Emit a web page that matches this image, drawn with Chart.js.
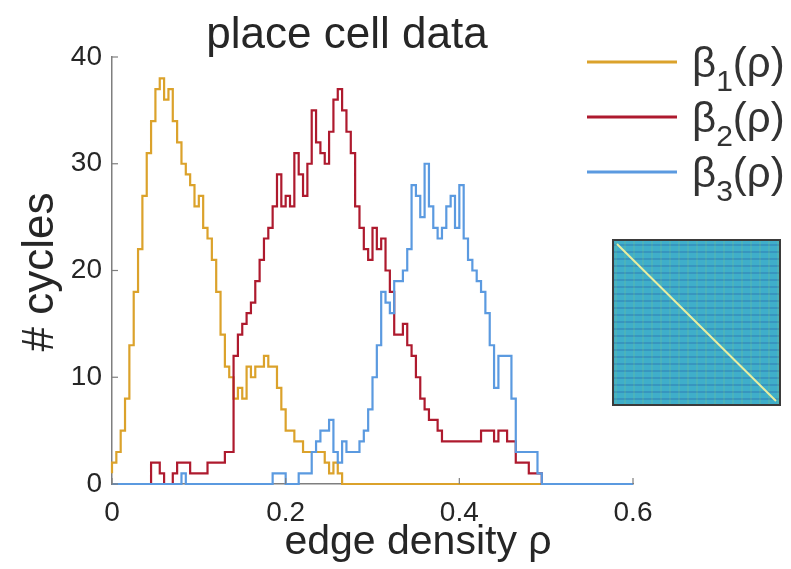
<!DOCTYPE html>
<html>
<head>
<meta charset="utf-8">
<script src="https://cdn.jsdelivr.net/npm/chart.js@4.4.1/dist/chart.umd.min.js"></script>
<style>
html, body { margin: 0; padding: 0; background: #fff; }
</style>
</head>
<body>
<canvas id="c" width="791" height="569"></canvas>
<script>
// histogram bins, left edges every 0.005 of edge density
const binWidth = 0.005;
const beta1 = [1, 2, 3, 5, 8, 13, 18, 22, 27, 31, 34, 37, 38, 36, 37, 34, 32, 30, 29, 28,
  26, 27, 24, 23, 21, 18, 14, 11, 10, 8, 9, 8, 11, 10, 11, 11, 12, 11, 11, 9,
  7, 5, 5, 4, 4, 3, 3, 3, 3, 3, 2, 1, 2, 1, 0, 0, 0, 0, 0, 0,
  0, 0, 0, 0, 0, 0, 0, 0, 0, 0, 0, 0, 0, 0, 0, 0, 0, 0, 0, 0,
  0, 0, 0, 0, 0, 0, 0, 0, 0, 0, 0, 0, 0, 0, 0, 0, 0, 0, 0, 0, 0];
const beta2 = [0, 0, 0, 0, 0, 0, 0, 0, 0, 0, 2, 2, 1, 0, 0, 1, 2, 2, 2, 1,
  1, 1, 1, 2, 2, 2, 2, 3, 3, 12, 14, 15, 16, 17, 19, 21, 23, 24, 26, 29,
  26, 27, 26, 31, 29, 27, 30, 35, 32, 31, 30, 33, 36, 37, 35, 33, 31, 26, 24, 22,
  21, 24, 22, 23, 20, 18, 14, 14, 15, 13, 12, 10, 8, 7, 6, 6, 5, 4, 4, 4,
  4, 4, 4, 4, 4, 4, 5, 5, 5, 4, 5, 5, 4, 4, 2, 2, 2, 1, 1, 1, 0];
const beta3 = [0, 0, 0, 0, 0, 0, 0, 0, 0, 0, 0, 0, 0, 0, 0, 0, 0, 1, 0, 0,
  0, 0, 0, 0, 0, 0, 0, 0, 0, 0, 0, 0, 0, 0, 0, 0, 0, 0, 1, 1,
  1, 0, 0, 0, 1, 1, 1, 3, 4, 5, 5, 6, 3, 2, 4, 3, 3, 3, 4, 5,
  7, 10, 13, 18, 17, 16, 19, 19, 20, 22, 28, 27, 25, 30, 26, 24, 23, 24, 26, 27,
  24, 28, 23, 21, 20, 19, 18, 16, 13, 9, 12, 12, 12, 8, 3, 3, 3, 3, 3, 1,
  0, 0, 0, 0, 0, 0, 0, 0, 0, 0, 0, 0, 0, 0, 0, 0, 0, 0, 0, 0, 0];

const seriesNames = ['1', '2', '3'];
const colors = ['#DBA22B', '#AE1A2E', '#5B9AE0'];
const xTicks = [0, 0.2, 0.4, 0.6];
const yTicks = [0, 10, 20, 30, 40];

const FONT = '"Liberation Sans", Arial, Helvetica, sans-serif';
const INK = '#262626';

function toPoints(vals) {
  return vals.map((v, i) => ({ x: +(i * binWidth).toFixed(3), y: v }));
}

function ds(vals, k, order) {
  return {
    label: 'β' + seriesNames[k] + '(ρ)',
    data: toPoints(vals),
    borderColor: colors[k],
    borderWidth: 2.2,
    stepped: 'after',
    pointRadius: 0,
    fill: false,
    clip: 6,
    order: order
  };
}

const decor = {
  id: 'decor',
  afterDraw(chart) {
    const ctx = chart.ctx;
    const xs = chart.scales.x, ys = chart.scales.y;
    const a = chart.chartArea;
    ctx.save();

    // inward tick marks like matlab
    ctx.strokeStyle = '#7f7f7f';
    ctx.lineWidth = 1.2;
    xTicks.forEach(t => {
      const p = xs.getPixelForValue(t);
      ctx.beginPath(); ctx.moveTo(p, a.bottom); ctx.lineTo(p, a.bottom - 6); ctx.stroke();
    });
    yTicks.forEach(t => {
      const p = ys.getPixelForValue(t);
      ctx.beginPath(); ctx.moveTo(a.left, p); ctx.lineTo(a.left + 6, p); ctx.stroke();
    });

    // title and axis labels
    ctx.fillStyle = INK;
    ctx.textAlign = 'center';
    ctx.textBaseline = 'alphabetic';
    ctx.font = '44px ' + FONT;
    ctx.fillText('place cell data', 347, 48);
    ctx.font = '41px ' + FONT;
    ctx.fillText('edge density ρ', 418, 554);
    ctx.save();
    ctx.translate(53, 272);
    ctx.rotate(-Math.PI / 2);
    ctx.font = '44px ' + FONT;
    ctx.fillText('# cycles', 0, 0);
    ctx.restore();

    // legend with subscripts
    const rows = [62, 117, 172];
    rows.forEach((y, k) => {
      ctx.strokeStyle = colors[k];
      ctx.lineWidth = 3;
      ctx.beginPath(); ctx.moveTo(587, y); ctx.lineTo(677, y); ctx.stroke();
      ctx.fillStyle = '#333';
      ctx.textAlign = 'left';
      let x = 692;
      ctx.font = '42px ' + FONT;
      ctx.fillText('β', x, y + 15);
      x += ctx.measureText('β').width;
      ctx.font = '30px ' + FONT;
      ctx.fillText(seriesNames[k], x, y + 29);
      x += ctx.measureText(seriesNames[k]).width;
      ctx.font = '42px ' + FONT;
      ctx.fillText('(ρ)', x, y + 15);
    });

    // inset: correlation matrix thumbnail (decorative streaks)
    const bx = 613, by = 240, bw = 167, bh = 165;
    ctx.fillStyle = '#3FAECA';
    ctx.fillRect(bx, by, bw, bh);
    ctx.lineWidth = 1.5;
    ctx.strokeStyle = 'rgba(28, 60, 150, 0.28)';
    for (let yy = by + 5; yy < by + bh; yy += 7) {
      ctx.beginPath(); ctx.moveTo(bx, yy); ctx.lineTo(bx + bw, yy); ctx.stroke();
    }
    ctx.strokeStyle = 'rgba(150, 210, 110, 0.22)';
    for (let xx = bx + 3; xx < bx + bw; xx += 9) {
      ctx.beginPath(); ctx.moveTo(xx, by); ctx.lineTo(xx, by + bh); ctx.stroke();
    }
    ctx.strokeStyle = '#e9eea0';
    ctx.lineWidth = 2;
    ctx.beginPath(); ctx.moveTo(bx + 4, by + 4); ctx.lineTo(bx + bw - 4, by + bh - 4); ctx.stroke();
    ctx.strokeStyle = '#3b3b3b';
    ctx.lineWidth = 2;
    ctx.strokeRect(bx, by, bw, bh);
    ctx.restore();
  }
};

const config = {
  type: 'line',
  data: {
    datasets: [ds(beta1, 0, 3), ds(beta2, 1, 2), ds(beta3, 2, 1)]
  },
  options: {
    responsive: false,
    animation: false,
    devicePixelRatio: 1,
    layout: { padding: { left: 0, top: 57, right: 158, bottom: 0 } },
    plugins: { legend: { display: false }, tooltip: { enabled: false }, title: { display: false } },
    scales: {
      x: {
        type: 'linear', min: 0, max: 0.6,
        afterFit: s => { s.height = 85; },
        afterBuildTicks: s => { s.ticks = xTicks.map(v => ({ value: v })); },
        grid: { display: false, drawTicks: false },
        border: { display: true, color: '#7f7f7f', width: 1.5 },
        ticks: {
          padding: 12, color: INK, font: { family: FONT, size: 28 },
          maxRotation: 0, autoSkip: false,
          callback: v => String(v)
        }
      },
      y: {
        min: 0, max: 40,
        afterFit: s => { s.width = 112; },
        afterBuildTicks: s => { s.ticks = yTicks.map(v => ({ value: v })); },
        grid: { display: false, drawTicks: false },
        border: { display: true, color: '#7f7f7f', width: 1.5 },
        ticks: { padding: 10, color: INK, font: { family: FONT, size: 28 }, callback: v => String(v) }
      }
    }
  },
  plugins: [decor]
};

new Chart(document.getElementById('c').getContext('2d'), config);
</script>
</body>
</html>
